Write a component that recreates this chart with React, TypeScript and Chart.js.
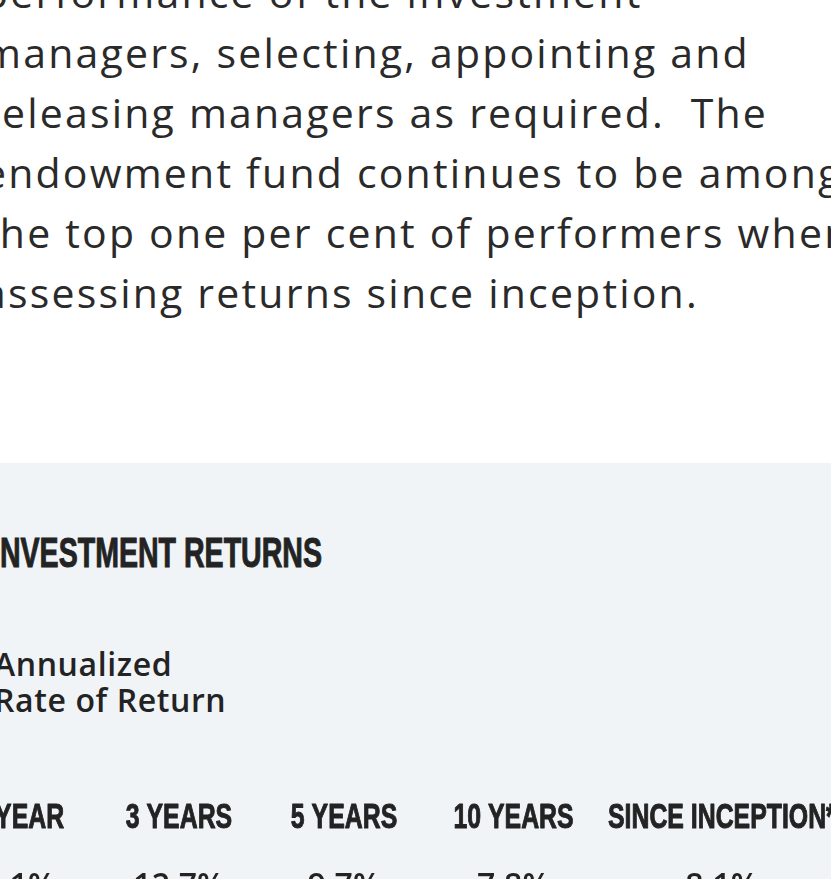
import React, { useEffect, useRef } from "react";
import { Chart, registerables } from "chart.js";

Chart.register(...registerables);

// ---- content / data ----
const paragraphLines = [
  "performance of the investment",
  "managers, selecting, appointing and",
  "releasing managers as required.  The",
  "endowment fund continues to be among",
  "the top one per cent of performers when",
  "assessing returns since inception.",
];
const sectionTitle = "INVESTMENT RETURNS";
const subtitleLines = ["Annualized", "Rate of Return"];
const periods = ["1 YEAR", "3 YEARS", "5 YEARS", "10 YEARS", "SINCE INCEPTION*"];
const returns = [6.1, 12.7, 9.7, 7.8, 8.1];

// ---- styles / layout ----
const TEXT_COLOR = "#232323";
const PANEL_BG = "#f0f4f7";
const HEADER_FONT = 'bold 35px "Liberation Sans", Arial, sans-serif';
const HEADER_SX = 0.71;
const VALUE_FONT = '600 32px "Open Sans", sans-serif';
const CANVAS_LEFT = -100;
const CANVAS_TOP = 780;
const CANVAS_W = 1000;
const CANVAS_H = 140;
// table auto-layout: each column gets K * (label width) + G
const TABLE_LEFT = -58;
const COL_K = 0.64;
const COL_G = 97;
const HEADER_BASELINE = 48;
const VALUE_BASELINE = 116;

function columnCenters(): number[] {
  const c = document.createElement("canvas").getContext("2d") as CanvasRenderingContext2D;
  c.font = HEADER_FONT;
  const widths = periods.map((p) => c.measureText(p).width * HEADER_SX * COL_K + COL_G);
  const centers: number[] = [];
  let x = TABLE_LEFT;
  widths.forEach((w) => {
    centers.push(x + w / 2);
    x += w;
  });
  return centers;
}

const tablePlugin = {
  id: "returnsTable",
  afterDatasetsDraw(chart: any) {
    const ctx: CanvasRenderingContext2D = chart.ctx;
    const meta = chart.getDatasetMeta(0);
    const labels: string[] = chart.data.labels;
    meta.data.forEach((el: any, i: number) => {
      const x = el.x;
      ctx.save();
      ctx.fillStyle = TEXT_COLOR;
      ctx.strokeStyle = TEXT_COLOR;
      ctx.lineWidth = 1;
      ctx.lineJoin = "round";
      ctx.font = HEADER_FONT;
      ctx.textAlign = "center";
      ctx.textBaseline = "alphabetic";
      ctx.translate(x, HEADER_BASELINE);
      ctx.scale(HEADER_SX, 1);
      ctx.fillText(labels[i], 0, 0);
      ctx.strokeText(labels[i], 0, 0);
      ctx.restore();

      ctx.save();
      ctx.fillStyle = TEXT_COLOR;
      ctx.font = VALUE_FONT;
      ctx.textAlign = "center";
      ctx.textBaseline = "alphabetic";
      const v = chart.data.datasets[0].data[i].y as number;
      ctx.fillText(v.toFixed(1) + "%", x, VALUE_BASELINE);
      ctx.restore();
    });
  },
};

function ReturnsChart() {
  const ref = useRef<HTMLCanvasElement | null>(null);
  useEffect(() => {
    if (!ref.current) return;
    const centers = columnCenters();
    const chart = new Chart(ref.current, {
      type: "scatter",
      data: {
        labels: periods,
        datasets: [
          {
            data: periods.map((_, i) => ({ x: centers[i], y: returns[i] })),
            pointRadius: 0,
            pointHoverRadius: 0,
            showLine: false,
          },
        ],
      },
      options: {
        animation: false,
        responsive: false,
        devicePixelRatio: 1,
        events: [],
        layout: { padding: 0 },
        plugins: {
          legend: { display: false },
          tooltip: { enabled: false },
          title: { display: false },
        },
        scales: {
          x: { type: "linear", min: CANVAS_LEFT, max: CANVAS_LEFT + CANVAS_W, display: false },
          y: { type: "linear", min: 0, max: 20, display: false },
        },
      },
      plugins: [tablePlugin],
    } as any);
    return () => chart.destroy();
  }, []);
  return (
    <canvas
      ref={ref}
      width={CANVAS_W}
      height={CANVAS_H}
      style={{ position: "absolute", left: CANVAS_LEFT, top: CANVAS_TOP, width: CANVAS_W, height: CANVAS_H }}
    />
  );
}

export default function App() {
  return (
    <div
      style={{
        position: "fixed",
        left: 0,
        top: 0,
        width: "100vw",
        height: "100vh",
        overflow: "hidden",
        background: "#ffffff",
        color: TEXT_COLOR,
      }}
    >
      <div
        style={{
          position: "absolute",
          left: -17,
          top: -37.9,
          fontFamily: '"Open Sans", sans-serif',
          fontSize: 41,
          letterSpacing: 2.2,
          lineHeight: "60px",
          whiteSpace: "pre",
          color: "#2a2a2a",
        }}
      >
        {paragraphLines.join("\n")}
      </div>
      <div style={{ position: "absolute", left: 0, right: 0, top: 463, bottom: 0, background: PANEL_BG }} />
      <div
        style={{
          position: "absolute",
          left: -8,
          top: 531.5,
          fontFamily: '"Liberation Sans", Arial, sans-serif',
          fontWeight: 700,
          fontSize: 42,
          lineHeight: "42px",
          whiteSpace: "pre",
          transform: "scaleX(0.68)",
          transformOrigin: "left top",
          WebkitTextStroke: "1px #232323",
        }}
      >
        {sectionTitle}
      </div>
      <div
        style={{
          position: "absolute",
          left: -6,
          top: 645.6,
          fontFamily: '"Open Sans", sans-serif',
          fontWeight: 600,
          fontSize: 32,
          letterSpacing: 0.6,
          lineHeight: "36px",
          whiteSpace: "pre",
        }}
      >
        {subtitleLines.join("\n")}
      </div>
      <ReturnsChart />
    </div>
  );
}
